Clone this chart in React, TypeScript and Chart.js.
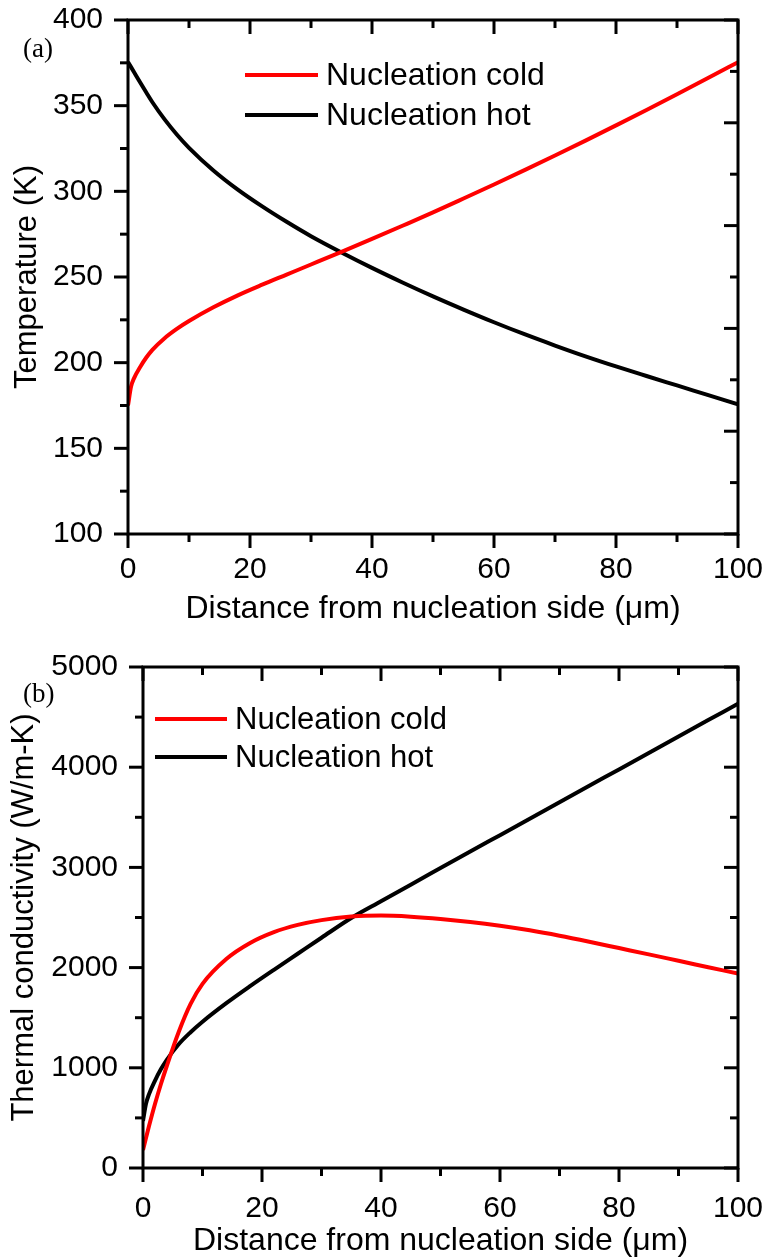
import React, { useEffect, useRef } from "react";
import { Chart, registerables } from "chart.js";

Chart.register(...registerables);

// ---------- data ----------
const distance = [0, 0.5, 1, 2, 3, 4, 6, 8, 10, 14, 18, 22, 26, 30, 35, 40, 45, 50, 55, 60, 65, 70, 75, 80, 85, 90, 95, 100];

const tempCold = [175, 186, 191, 197.5, 203, 207.5, 214.3, 219.7, 224.3, 232.3, 239.3, 245.5, 251.4, 257.3, 264.7, 272.2, 279.9, 287.7, 295.8, 304, 312.4, 320.9, 329.6, 338.5, 347.5, 356.7, 366, 375.4];
const tempHot = [375.5, 372.5, 369.5, 363.5, 357.7, 352, 342, 333.2, 325.4, 312.2, 301, 291.2, 282.2, 273.8, 264.3, 255.3, 246.8, 238.7, 231, 223.6, 216.6, 210, 203.7, 197.8, 192.2, 186.7, 181.2, 175.7];

const condCold = [180, 300, 416, 636, 836, 1018, 1358, 1638, 1838, 2086, 2246, 2354, 2426, 2474, 2509, 2519, 2508, 2486, 2456, 2418, 2372, 2318, 2258, 2195, 2132, 2068, 2004, 1940];
const condHot = [470, 640, 735, 870, 985, 1080, 1235, 1355, 1460, 1645, 1815, 1978, 2138, 2298, 2495, 2662, 2828, 2993, 3158, 3322, 3486, 3650, 3814, 3978, 4142, 4306, 4470, 4634];

const seriesLabels = ["Nucleation cold", "Nucleation hot"];
const seriesColors = ["#ff0000", "#000000"];

const xTitle = "Distance from nucleation side (\u03bcm)";
const tempTitle = "Temperature (K)";
const condTitle = "Thermal conductivity (W/m-K)";

const SANS = "'Liberation Sans', Arial, sans-serif";
const SERIF = "'Liberation Serif', 'Times New Roman', serif";

// ---------- plugin: frame, ticks, legend, panel label ----------
const framePlugin = {
  id: "frameTicks",
  afterDraw(chart: any, _args: any, opts: any) {
    if (!opts || !opts.sides) return;
    const { ctx, chartArea: a } = chart;
    ctx.save();
    ctx.strokeStyle = "#000";
    ctx.lineWidth = opts.lineWidth;
    ctx.lineCap = "butt";
    for (const s of opts.sides) {
      const scale = chart.scales[s.scale];
      const n = Math.round((s.max - s.min) / s.minor);
      for (let i = 0; i <= n; i++) {
        const v = s.min + i * s.minor;
        const r = v / s.major;
        const major = Math.abs(r - Math.round(r)) < 1e-6;
        const len = major ? opts.majorLen : opts.minorLen;
        const p = scale.getPixelForValue(v);
        ctx.beginPath();
        if (s.side === "left") {
          ctx.moveTo(a.left, p);
          ctx.lineTo(a.left + (s.inward ? len : -len), p);
        } else if (s.side === "right") {
          ctx.moveTo(a.right, p);
          ctx.lineTo(a.right + (s.inward ? -len : len), p);
        } else if (s.side === "bottom") {
          ctx.moveTo(p, a.bottom);
          ctx.lineTo(p, a.bottom + (s.inward ? -len : len));
        } else {
          ctx.moveTo(p, a.top);
          ctx.lineTo(p, a.top + (s.inward ? len : -len));
        }
        ctx.stroke();
      }
    }
    ctx.strokeRect(a.left, a.top, a.right - a.left, a.bottom - a.top);

    const lg = opts.legend;
    if (lg) {
      ctx.font = lg.font;
      ctx.textBaseline = "middle";
      ctx.textAlign = "left";
      chart.data.datasets.forEach((ds: any, i: number) => {
        const y = lg.y0 + i * lg.gap;
        ctx.strokeStyle = ds.borderColor;
        ctx.lineWidth = lg.lineWidth;
        ctx.beginPath();
        ctx.moveTo(lg.x0, y);
        ctx.lineTo(lg.x1, y);
        ctx.stroke();
        ctx.fillStyle = "#000";
        ctx.fillText(ds.label, lg.textX, y + 1);
      });
    }
    const pl = opts.panel;
    if (pl) {
      ctx.font = pl.font;
      ctx.fillStyle = "#000";
      ctx.textBaseline = "alphabetic";
      ctx.textAlign = "left";
      ctx.fillText(pl.text, pl.x, pl.y);
    }
    ctx.restore();
  },
};

function makeConfig(p: any) {
  return {
    type: "line",
    data: {
      datasets: p.series.map((vals: number[], i: number) => ({
        label: seriesLabels[i],
        data: distance.map((x, j) => ({ x, y: vals[j] })),
        borderColor: seriesColors[i],
        backgroundColor: seriesColors[i],
        borderWidth: 4,
        pointRadius: 0,
        cubicInterpolationMode: "monotone",
        fill: false,
      })),
    },
    plugins: [framePlugin],
    options: {
      responsive: false,
      animation: false,
      devicePixelRatio: 1,
      layout: { padding: { top: p.padTop, right: 30, left: 0, bottom: 0 } },
      plugins: {
        legend: { display: false },
        tooltip: { enabled: false },
        frameTicks: {
          lineWidth: 3,
          majorLen: 14,
          minorLen: 8,
          sides: p.sides,
          legend: p.legend,
          panel: p.panel,
        },
      },
      scales: {
        x: {
          type: "linear",
          min: 0,
          max: 100,
          grid: { display: false, drawTicks: false },
          border: { display: false },
          ticks: {
            stepSize: 20,
            autoSkip: false,
            maxRotation: 0,
            color: "#000",
            padding: p.xTickPad,
            font: { family: SANS, size: 30 },
            callback: (v: any) => String(v),
          },
          title: {
            display: true,
            text: xTitle,
            color: "#000",
            font: { family: SANS, size: 32 },
            padding: { top: 0, bottom: p.xTitlePad },
          },
          afterFit: (s: any) => {
            s.height = p.xHeight;
            s.paddingLeft = 0;
            s.paddingRight = 0;
            s.paddingTop = 0;
            s.paddingBottom = 0;
          },
        },
        y: {
          type: "linear",
          min: p.yMin,
          max: p.yMax,
          grid: { display: false, drawTicks: false },
          border: { display: false },
          ticks: {
            stepSize: p.yStep,
            autoSkip: false,
            color: "#000",
            padding: 25,
            font: { family: SANS, size: 30 },
            callback: (v: any) => String(v),
          },
          title: {
            display: true,
            text: p.yTitle,
            color: "#000",
            font: { family: SANS, size: 31 },
            padding: { top: p.yTitlePad, bottom: 0 },
          },
          afterFit: (s: any) => {
            s.width = p.yWidth;
            s.paddingLeft = 0;
            s.paddingRight = 0;
            s.paddingTop = 0;
            s.paddingBottom = 0;
          },
        },
        y2: {
          type: "linear",
          position: "right",
          display: false,
          min: p.y2Min,
          max: p.y2Max,
        },
      },
    },
  };
}

const topParams = {
  series: [tempCold, tempHot],
  padTop: 20,
  yMin: 100,
  yMax: 400,
  yStep: 50,
  y2Min: 0,
  y2Max: 10,
  yTitle: tempTitle,
  yWidth: 128,
  xHeight: 106,
  xTickPad: 18,
  xTitlePad: 12,
  yTitlePad: 9,
  sides: [
    { side: "left", scale: "y", min: 100, max: 400, major: 50, minor: 25, inward: false },
    { side: "right", scale: "y2", min: 0, max: 10, major: 2, minor: 1, inward: true },
    { side: "bottom", scale: "x", min: 0, max: 100, major: 20, minor: 10, inward: false },
    { side: "top", scale: "x", min: 0, max: 100, major: 20, minor: 10, inward: true },
  ],
  legend: { x0: 245, x1: 318, textX: 326, y0: 75, gap: 40, lineWidth: 4, font: `32px ${SANS}` },
  panel: { text: "(a)", x: 23, y: 57, font: `27px ${SERIF}` },
};

const bottomParams = {
  series: [condCold, condHot],
  padTop: 27,
  yMin: 0,
  yMax: 5000,
  yStep: 1000,
  y2Min: 0,
  y2Max: 5000,
  yTitle: condTitle,
  yWidth: 143,
  xHeight: 92,
  xTickPad: 23,
  xTitlePad: 0,
  yTitlePad: 6,
  sides: [
    { side: "left", scale: "y", min: 0, max: 5000, major: 1000, minor: 500, inward: false },
    { side: "right", scale: "y2", min: 0, max: 5000, major: 1000, minor: 500, inward: true },
    { side: "bottom", scale: "x", min: 0, max: 100, major: 20, minor: 10, inward: false },
    { side: "top", scale: "x", min: 0, max: 100, major: 20, minor: 10, inward: true },
  ],
  legend: { x0: 155, x1: 227, textX: 235, y0: 79, gap: 38, lineWidth: 4, font: `31px ${SANS}` },
  panel: { text: "(b)", x: 23, y: 62, font: `27px ${SERIF}` },
};

function Panel({ params, height }: { params: any; height: number }) {
  const ref = useRef<HTMLCanvasElement | null>(null);
  useEffect(() => {
    if (!ref.current) return;
    const chart = new Chart(ref.current, makeConfig(params) as any);
    return () => chart.destroy();
  }, [params]);
  return <canvas ref={ref} width={768} height={height} style={{ display: "block", width: 768, height }} />;
}

export default function App() {
  return (
    <div style={{ position: "absolute", left: 0, top: 0, width: 768, height: 1260, background: "#fff" }}>
      <Panel params={topParams} height={640} />
      <Panel params={bottomParams} height={620} />
    </div>
  );
}
